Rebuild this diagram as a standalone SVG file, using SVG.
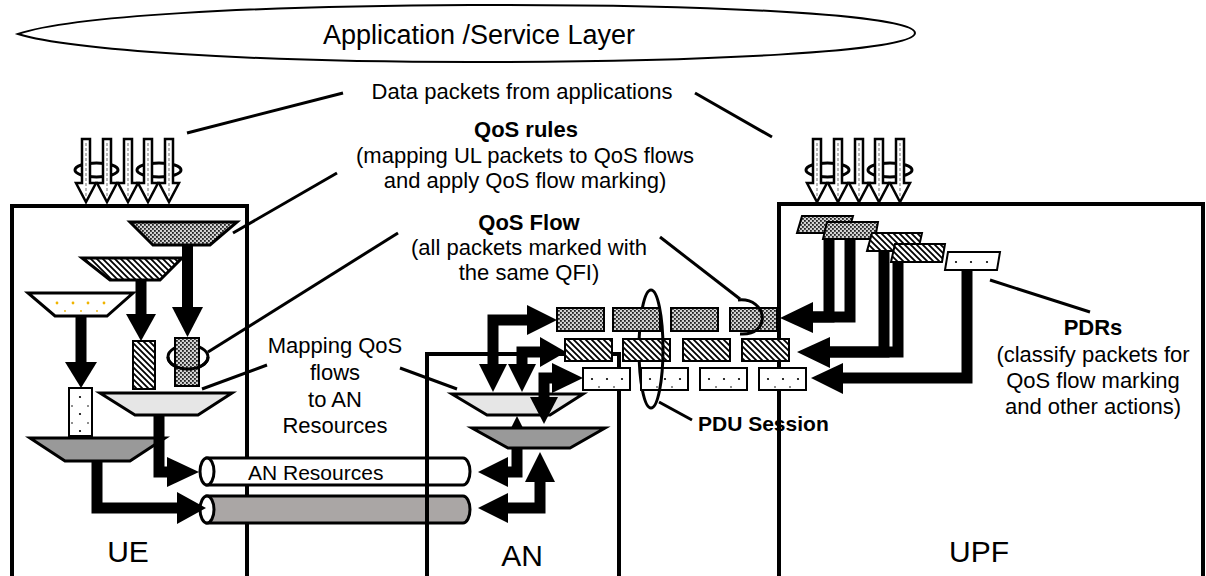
<svg xmlns="http://www.w3.org/2000/svg" width="1206" height="576" viewBox="0 0 1206 576">
<style>
text{font-family:"Liberation Sans",Arial,sans-serif;fill:#000}
.t{font-size:22px;text-anchor:middle}
.b{font-weight:bold}
.big{font-size:30px;text-anchor:middle}
.box{fill:none;stroke:#000;stroke-width:4}
.ld{stroke:#000;stroke-width:3;fill:none}
.fl{stroke:#000;stroke-width:11;fill:none;stroke-linejoin:miter;stroke-linecap:butt}
.hd{fill:#000}
.fn{stroke:#000;stroke-width:3;stroke-linejoin:miter}
.pk{stroke:#000;stroke-width:2}
.ha{fill:#fff;stroke:#000;stroke-width:2.5;stroke-linejoin:miter}
.hl{stroke:#8a8a8a;stroke-width:1.2;stroke-dasharray:3 2}
.lp{fill:none;stroke:#000;stroke-width:3}
.pipe{stroke:#000;stroke-width:3}
</style>
<defs>
<pattern id="cd" width="4" height="4" patternUnits="userSpaceOnUse"><rect width="4" height="4" fill="#d2d2d2"/><rect width="1.8" height="1.8" fill="#222"/><rect x="2" y="2" width="1.8" height="1.8" fill="#222"/></pattern>
<pattern id="hs" width="6" height="6" patternUnits="userSpaceOnUse"><rect width="6" height="6" fill="#fff"/><path d="M0,0L6,6M-1,5L1,7M5,-1L7,1" stroke="#000" stroke-width="1.8"/></pattern>
<g id="inArrows">
<ellipse class="lp" cx="96.5" cy="170" rx="21.5" ry="7"/>
<ellipse class="lp" cx="159" cy="170" rx="22" ry="7"/>
<path class="ha" d="M82,139h8v44h6l-10,19l-10,-19h6z"/>
<path class="ha" d="M103,139h8v44h6l-10,19l-10,-19h6z"/>
<path class="ha" d="M124,139h8v44h6l-10,19l-10,-19h6z"/>
<path class="ha" d="M144,139h8v44h6l-10,19l-10,-19h6z"/>
<path class="ha" d="M165,139h8v44h6l-10,19l-10,-19h6z"/>
<path class="hl" d="M86,143V196M107,143V196M128,143V196M148,143V196M169,143V196"/>
</g>
<g id="dp">
<rect class="pk" width="47" height="22" fill="#fff"/>
<circle cx="9" cy="11" r="1.1"/><circle cx="24" cy="11" r="1.1"/><circle cx="39" cy="11" r="1.1"/>
<circle cx="16" cy="19" r="0.8"/><circle cx="31" cy="19" r="0.8"/>
</g>
</defs>

<g id="app-layer">
<path d="M18,34C70,16 250,6 470,5C700,4 915,14 915,33C915,52 700,62 470,62C250,62 70,50 18,34Z" fill="#fff" stroke="#000" stroke-width="2"/>
<text x="479" y="44" font-size="27" text-anchor="middle">Application /Service Layer</text>
</g>

<g id="labels">
<text class="t" x="522" y="99">Data packets from applications</text>
<text class="t b" x="526" y="137">QoS rules</text>
<text class="t" x="525" y="163">(mapping UL packets to QoS flows</text>
<text class="t" x="525" y="188">and apply QoS flow marking)</text>
<text class="t b" x="529" y="230">QoS Flow</text>
<text class="t" x="529" y="255">(all packets marked with</text>
<text class="t" x="529" y="280">the same QFI)</text>
<text class="t" x="335" y="353">Mapping QoS</text>
<text class="t" x="335" y="380">flows</text>
<text class="t" x="335" y="407">to AN</text>
<text class="t" x="335" y="433">Resources</text>
<text class="t b" x="1093" y="335">PDRs</text>
<text class="t" x="1093" y="362">(classify packets for</text>
<text class="t" x="1093" y="388">QoS flow marking</text>
<text class="t" x="1093" y="414">and other actions)</text>
<text x="698" y="431" font-size="21" font-weight="bold">PDU Session</text>
</g>

<g id="ue">
<rect class="box" x="12" y="206" width="235" height="380"/>
<text class="big" x="128" y="562">UE</text>
<use href="#inArrows"/>
<polygon class="fn" points="130,222 237,222 210,245 153,245" fill="url(#cd)"/>
<polygon class="fn" points="82,258 182,258 160,280 110,280" fill="url(#hs)"/>
<polygon class="fn" points="28,293 133,293 107,316 55,316" fill="#fff"/>
<g fill="#f0b400"><circle cx="57" cy="303" r="1.4"/><circle cx="73" cy="303" r="1.4"/><circle cx="88" cy="303" r="1.4"/><circle cx="104" cy="303" r="1.4"/><circle cx="65" cy="311" r="0.9"/><circle cx="81" cy="311" r="0.9"/><circle cx="97" cy="311" r="0.9"/></g>
<ellipse class="lp" cx="188" cy="357" rx="20" ry="12"/>
<rect class="pk" x="175" y="338" width="24" height="48" fill="url(#cd)"/>
<path class="lp" d="M168,357A20,12 0 0 0 208,357"/>
<rect class="pk" x="133" y="341" width="22" height="48" fill="url(#hs)"/>
<rect class="pk" x="69" y="388" width="23" height="48" fill="#fff"/>
<g><circle cx="80" cy="397" r="1.1"/><circle cx="80" cy="414" r="1.1"/><circle cx="80" cy="431" r="1.1"/><circle cx="72" cy="406" r="0.8"/><circle cx="88" cy="406" r="0.8"/><circle cx="72" cy="423" r="0.8"/><circle cx="88" cy="423" r="0.8"/></g>
<polygon class="fn" points="100,393 232,393 198,415 135,415" fill="#e6e6e6"/>
<polygon class="fn" points="30,438 165,438 130,461 65,461" fill="#999"/>
</g>

<g id="an-resources">
<path class="pipe" d="M207,458H463A7,13.5 0 0 1 463,485H207Z" fill="#fff"/>
<ellipse class="pipe" cx="207" cy="471.5" rx="7" ry="13.5" fill="#fff"/>
<text x="248" y="480" font-size="21">AN Resources</text>
<path class="pipe" d="M207,496H463A7,13.5 0 0 1 463,523H207Z" fill="#aaa6a5"/>
<ellipse class="pipe" cx="207" cy="509.5" rx="7" ry="13.5" fill="#fff"/>
</g>

<g id="an">
<rect class="box" x="427" y="354" width="192" height="240"/>
<text class="big" x="522" y="566">AN</text>
<polygon class="fn" points="452,394 583,394 550,415 487,415" fill="#e6e6e6"/>
<polygon class="fn" points="472,428 605,428 570,448 508,448" fill="#999"/>
</g>

<g id="upf">
<rect class="box" x="779" y="204" width="424" height="390"/>
<text class="big" x="979" y="562">UPF</text>
<use href="#inArrows" transform="translate(731,0)"/>
</g>

<g id="pdu-session-back">
<path class="lp" d="M651,290A12,59 0 0 0 651,408"/>
</g>

<g id="qos-flows">
<rect class="pk" x="557" y="308" width="47" height="23" fill="url(#cd)"/>
<rect class="pk" x="613" y="308" width="47" height="23" fill="url(#cd)"/>
<rect class="pk" x="671" y="308" width="47" height="23" fill="url(#cd)"/>
<rect class="pk" x="730" y="308" width="47" height="23" fill="url(#cd)"/>
<rect class="pk" x="565" y="339" width="47" height="22" fill="url(#hs)"/>
<rect class="pk" x="623" y="339" width="47" height="22" fill="url(#hs)"/>
<rect class="pk" x="683" y="339" width="47" height="22" fill="url(#hs)"/>
<rect class="pk" x="742" y="339" width="47" height="22" fill="url(#hs)"/>
<use href="#dp" x="583" y="368"/>
<use href="#dp" x="641" y="368"/>
<use href="#dp" x="700" y="368"/>
<use href="#dp" x="759" y="368"/>
<path class="lp" d="M651,290A12,59 0 0 1 651,408"/>
<path class="lp" d="M738,300C768,297 772,336 740,334"/>
</g>

<g id="connectors">
<path class="ld" d="M343,93L187,133"/>
<path class="ld" d="M695,93L772,137"/>
<path class="ld" d="M337,173L233,233"/>
<path class="ld" d="M398,233L208,352"/>
<path class="ld" d="M660,237L740,299"/>
<path class="ld" d="M267,365L202,389"/>
<path class="ld" d="M400,368L457,389"/>
<path class="ld" d="M659,402L692,420"/>
<path class="ld" d="M990,280L1090,312"/>
<path class="fl" d="M187.5,245V308"/><polygon class="hd" points="172,307 203,307 187.5,337"/>
<path class="fl" d="M141,280V315"/><polygon class="hd" points="126,314 156,314 141,341"/>
<path class="fl" d="M81,316V363"/><polygon class="hd" points="65,362 97,362 81,388"/>
<path class="fl" d="M159,415V472H170"/><polygon class="hd" points="167,457 167,487 199,472"/>
<path class="fl" d="M97,461V508H180"/><polygon class="hd" points="177,492 177,524 206,508"/>
<path class="fl" d="M517,448V472H505"/><polygon class="hd" points="508,457 508,487 478,472"/>
<path class="fl" d="M505,508H540V480"/><polygon class="hd" points="508,493 508,523 478,508"/><polygon class="hd" points="525,482 555,482 540,452"/>
<polygon class="hd" points="511,428 523,428 517,416"/>
<path class="fl" d="M493,366V320H530"/><polygon class="hd" points="479,364 507,364 493,392"/><polygon class="hd" points="527,305 527,335 557,320"/>
<path class="fl" d="M522,366V352H542"/><polygon class="hd" points="508,364 536,364 522,392"/><polygon class="hd" points="540,337 540,367 566,352"/>
<path class="fl" d="M544,398V378H555"/><polygon class="hd" points="530,397 558,397 544,424"/><polygon class="hd" points="552,363 552,393 583,378"/>
<path class="fl" d="M829,240V317H812"/>
<path class="fl" d="M850,239V317H812"/><polygon class="hd" points="813,302 813,333 780,318"/>
<path class="fl" d="M884,251V352H828"/>
<path class="fl" d="M898,262V352H828"/><polygon class="hd" points="830,337 830,368 797,352"/>
<path class="fl" d="M967,270V378H840"/><polygon class="hd" points="843,363 843,394 811,378"/>
</g>

<g id="pdrs">
<polygon class="pk" points="802,216 853,216 848,233 797,233" fill="url(#cd)"/>
<polygon class="pk" points="827,222 878,222 875,239 823,239" fill="url(#cd)"/>
<polygon class="pk" points="872,233 922,233 918,251 867,251" fill="url(#hs)"/>
<polygon class="pk" points="895,244 945,244 942,262 891,262" fill="url(#hs)"/>
<polygon class="pk" points="948,252 1000,252 997,270 945,270" fill="#fff"/>
<circle cx="956" cy="262" r="1.1"/><circle cx="971" cy="262" r="1.1"/><circle cx="987" cy="262" r="1.1"/>
</g>
</svg>
